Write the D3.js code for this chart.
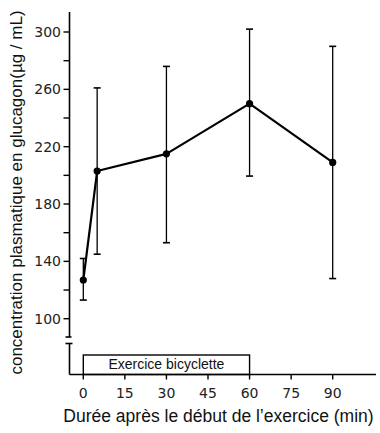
<!DOCTYPE html>
<html><head><meta charset="utf-8">
<script src="https://cdn.jsdelivr.net/npm/d3@7/dist/d3.min.js"></script>
<style>body{margin:0;background:#fff}svg{display:block}</style>
</head><body>
<script>
const times = [0, 5, 30, 60, 90];
const means = [127, 203, 215, 250, 209];
const upper = [142, 261, 276, 302, 290];
const lower = [113, 145, 153, 199.5, 128];
const xTicks = [0, 15, 30, 45, 60, 75, 90];
const yMajor = [100, 140, 180, 220, 260, 300];
const yMinor = [120, 160, 200, 240, 280];
const exercise = {start: 0, end: 60, label: "Exercice bicyclette"};
const xTitle = "Durée après le début de l\u2019exercice (min)";
const yTitle = "concentration plasmatique en glucagon(µg / mL)";

const W = 380, H = 433;
const svg = d3.select("body").append("svg").attr("width", W).attr("height", H);

const x = d3.scaleLinear().domain([0, 90]).range([83.3, 332.7]);
const y = d3.scaleLinear().domain([100, 300]).range([318.7, 32]);
const axisX = 69.5, baseY = 374.5;

const g = svg.append("g").attr("stroke", "#000").attr("fill", "none");

// y axis upper part (with break)
g.append("line").attr("x1", axisX).attr("x2", axisX).attr("y1", 12).attr("y2", 337).attr("stroke-width", 1.6);
g.append("line").attr("x1", axisX-4).attr("x2", axisX+2).attr("y1", 337).attr("y2", 337).attr("stroke-width", 1.6);
g.append("line").attr("x1", axisX-4).attr("x2", axisX+3).attr("y1", 343.5).attr("y2", 343.5).attr("stroke-width", 1.6);
g.append("line").attr("x1", axisX).attr("x2", axisX).attr("y1", 343.5).attr("y2", baseY).attr("stroke-width", 1.6);

// y ticks
yMajor.concat(yMinor).forEach(v => {
  g.append("line").attr("x1", axisX-6).attr("x2", axisX).attr("y1", y(v)).attr("y2", y(v)).attr("stroke-width", 1.4);
});
svg.append("g").selectAll("text").data(yMajor).join("text")
  .attr("x", 61).attr("y", d => y(d)).attr("dy", "0.36em")
  .attr("text-anchor", "end")
  .attr("font-family", "DejaVu Sans").attr("font-size", 14).attr("fill", "#222")
  .text(d => d);

// x axis
g.append("line").attr("x1", axisX).attr("x2", 376).attr("y1", baseY).attr("y2", baseY).attr("stroke-width", 1.4);
xTicks.forEach(v => {
  g.append("line").attr("x1", x(v)).attr("x2", x(v)).attr("y1", baseY).attr("y2", baseY+5).attr("stroke-width", 1.4);
});
svg.append("g").selectAll("text").data(xTicks).join("text")
  .attr("x", d => x(d)).attr("y", 398)
  .attr("text-anchor", "middle")
  .attr("font-family", "DejaVu Sans").attr("font-size", 14).attr("fill", "#222")
  .text(d => d);

// exercise box
g.append("rect").attr("x", x(exercise.start)).attr("y", 355)
  .attr("width", x(exercise.end) - x(exercise.start)).attr("height", baseY - 355)
  .attr("stroke-width", 1.4);
svg.append("text").attr("x", (x(exercise.start)+x(exercise.end))/2).attr("y", 369)
  .attr("text-anchor", "middle").attr("font-family", "Liberation Sans").attr("font-size", 14)
  .attr("fill", "#111").text(exercise.label);

// error bars
const cap = 3.5;
times.forEach((t, i) => {
  const cx = x(t);
  g.append("line").attr("x1", cx).attr("x2", cx).attr("y1", y(upper[i])).attr("y2", y(lower[i])).attr("stroke-width", 1.3);
  g.append("line").attr("x1", cx-cap).attr("x2", cx+cap).attr("y1", y(upper[i])).attr("y2", y(upper[i])).attr("stroke-width", 1.6);
  g.append("line").attr("x1", cx-cap).attr("x2", cx+cap).attr("y1", y(lower[i])).attr("y2", y(lower[i])).attr("stroke-width", 1.6);
});

// line
const line = d3.line().x((d, i) => x(times[i])).y(d => y(d));
g.append("path").datum(means).attr("d", line).attr("stroke-width", 2.2).attr("stroke-linejoin", "round");
svg.append("g").selectAll("circle").data(means).join("circle")
  .attr("cx", (d, i) => x(times[i])).attr("cy", d => y(d)).attr("r", 3.6).attr("fill", "#000");

// titles
svg.append("text").attr("x", 218.5).attr("y", 422).attr("text-anchor", "middle")
  .attr("font-family", "Liberation Sans").attr("font-size", 17.5).attr("fill", "#111").text(xTitle);
svg.append("text").attr("transform", "translate(22,192.5) rotate(-90)").attr("text-anchor", "middle")
  .attr("font-family", "Liberation Sans").attr("font-size", 17).attr("fill", "#111").text(yTitle);
</script>
</body></html>
